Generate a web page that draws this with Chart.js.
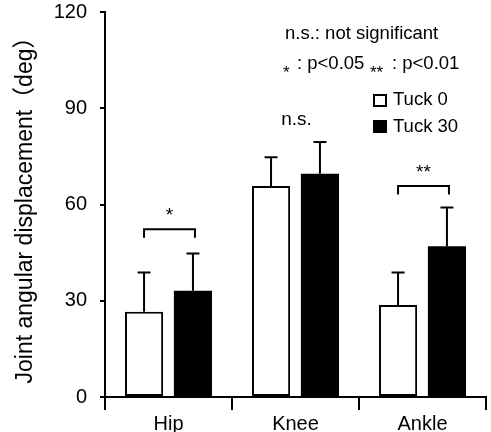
<!DOCTYPE html>
<html>
<head>
<meta charset="utf-8">
<script src="https://cdn.jsdelivr.net/npm/chart.js@4"></script>
<style>
  html, body { margin: 0; padding: 0; background: #fff; }
  #wrap { width: 491px; height: 432px; }
</style>
</head>
<body>
<div id="wrap"><canvas id="barChart"></canvas></div>
<script>
const categories = ["Hip", "Knee", "Ankle"];
const tuck0 = [26.6, 65.8, 28.7];
const tuck30 = [33.1, 69.6, 47.0];
const tuck0Sd = [12.2, 8.9, 10.1];
const tuck30Sd = [11.6, 9.9, 12.1];
const yTicks = [0, 30, 60, 90, 120];
// significance marks per category: label and bracket level (null = no bracket)
const sigLabels = ["*", "n.s.", "**"];
const sigBracket = [52.3, null, 65.8];
const sigTextLevel = [56.5, 86.5, 70];

const FONT = "'Liberation Sans', Arial, sans-serif";

const extrasPlugin = {
  id: "extras",
  afterDatasetsDraw(chart) {
    const ctx = chart.ctx;
    const y = chart.scales.y;
    const sds = [tuck0Sd, tuck30Sd];
    ctx.save();
    ctx.strokeStyle = "#000";
    ctx.fillStyle = "#000";
    ctx.lineWidth = 2;

    // error bars (upper only)
    chart.data.datasets.forEach((ds, i) => {
      const meta = chart.getDatasetMeta(i);
      meta.data.forEach((bar, j) => {
        const top = y.getPixelForValue(ds.data[j] + sds[i][j]);
        ctx.beginPath();
        ctx.moveTo(bar.x, bar.y);
        ctx.lineTo(bar.x, top);
        ctx.moveTo(bar.x - 6.5, top);
        ctx.lineTo(bar.x + 6.5, top);
        ctx.stroke();
      });
    });

    // brackets and significance labels
    const m0 = chart.getDatasetMeta(0).data;
    const m1 = chart.getDatasetMeta(1).data;
    categories.forEach((c, j) => {
      const x0 = m0[j].x, x1 = m1[j].x;
      if (sigBracket[j] !== null) {
        const by = y.getPixelForValue(sigBracket[j]);
        ctx.beginPath();
        ctx.moveTo(x0, by + 8.5);
        ctx.lineTo(x0, by);
        ctx.lineTo(x1 + 2, by);
        ctx.lineTo(x1 + 2, by + 8.5);
        ctx.stroke();
      }
      ctx.font = "19px " + FONT;
      ctx.textAlign = "center";
      ctx.textBaseline = "middle";
      ctx.fillText(sigLabels[j], (x0 + x1) / 2 + 1, y.getPixelForValue(sigTextLevel[j]));
    });

    // notes
    ctx.textAlign = "left";
    ctx.textBaseline = "alphabetic";
    ctx.font = "18.5px " + FONT;
    ctx.fillText("n.s.: not significant", 285, 39);
    ctx.fillText(": p<0.05", 297, 69);
    ctx.fillText(": p<0.01", 392, 69);
    ctx.font = "17px " + FONT;
    ctx.fillText("*", 283, 78);
    ctx.fillText("**", 370, 78);

    // legend
    ctx.font = "18.5px " + FONT;
    ctx.textBaseline = "middle";
    ctx.lineWidth = 2;
    ctx.strokeRect(374, 95, 12, 11);
    ctx.fillRect(373, 120, 14, 13);
    ctx.fillText("Tuck 0", 393, 100);
    ctx.fillText("Tuck 30", 393, 127);
    ctx.restore();
  }
};

const ctx = document.getElementById("barChart").getContext("2d");
const barChart = new Chart(ctx, {
  type: "bar",
  data: {
    labels: categories,
    datasets: [
      {
        label: "Tuck 0",
        data: tuck0,
        backgroundColor: "#fff",
        borderColor: "#000",
        borderWidth: 2,
        borderSkipped: false,
      },
      {
        label: "Tuck 30",
        data: tuck30,
        backgroundColor: "#000",
        borderColor: "#000",
        borderWidth: 0,
      },
    ],
  },
  options: {
    responsive: true,
    maintainAspectRatio: false,
    animation: false,
    datasets: {
      bar: { categoryPercentage: 0.77, barPercentage: 0.78 },
    },
    layout: { padding: { top: 12, right: 5, left: 0, bottom: 0 } },
    plugins: {
      legend: { display: false },
      tooltip: { enabled: false },
    },
    scales: {
      x: {
        grid: {
          display: true,
          drawOnChartArea: false,
          drawTicks: true,
          tickLength: 13,
          color: "#000",
          lineWidth: 2,
          offset: true,
        },
        border: { display: true, color: "#000", width: 2 },
        ticks: { color: "#000", padding: 2, font: { family: FONT, size: 20 } },
        afterFit: (s) => { s.height = 35; s.paddingLeft = 0; s.paddingRight = 0; },
      },
      y: {
        min: 0,
        max: 120,
        afterBuildTicks: (s) => { s.ticks = yTicks.map((v) => ({ value: v })); },
        grid: {
          display: true,
          drawOnChartArea: false,
          drawTicks: true,
          tickLength: 5,
          color: "#000",
          lineWidth: 2,
        },
        border: { display: true, color: "#000", width: 2 },
        ticks: { color: "#000", padding: 13, font: { family: FONT, size: 20 } },
        title: {
          display: true,
          text: "Joint angular displacement（deg）",
          color: "#000",
          font: { family: FONT + ", 'Noto Sans CJK JP'", size: 23 },
          padding: { top: 12, bottom: 0 },
        },
        afterFit: (s) => { s.width = 105; s.paddingTop = 0; s.paddingBottom = 0; },
      },
    },
  },
  plugins: [extrasPlugin],
});
</script>
</body>
</html>
